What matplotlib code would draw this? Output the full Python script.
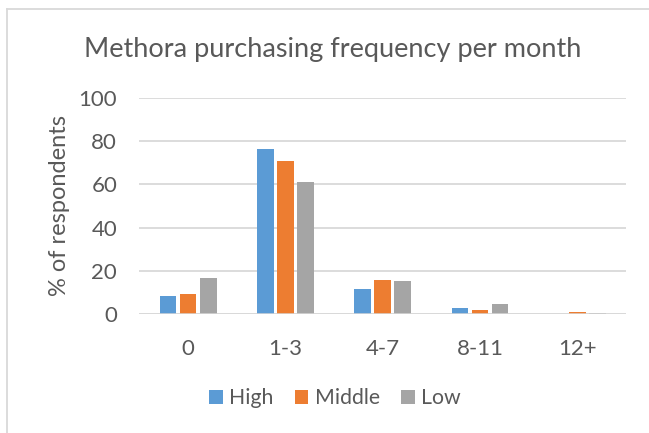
import numpy as np
import matplotlib.pyplot as plt
from matplotlib.patches import Patch

# survey data: % of respondents by purchase frequency, per income group
categories = ['0', '1-3', '4-7', '8-11', '12+']
groups = ['High', 'Middle', 'Low']
high = [8.6, 76.2, 11.5, 2.9, 0.0]
middle = [9.3, 70.6, 15.9, 1.8, 1.0]
low = [16.6, 61.1, 15.5, 4.9, 0.8]
colors = ['#5B9BD5', '#ED7D31', '#A5A5A5']

txt = '#595959'
grid = '#D9D9D9'
plt.rcParams['font.family'] = ['Lato', 'DejaVu Sans']

fig = plt.figure(figsize=(6.49, 4.33), dpi=100, facecolor='white')
ax = fig.add_axes([0.2149, 0.2741, 0.7496, 0.5003])

x = np.arange(len(categories))
step = 0.2066
for k, vals in enumerate([high, middle, low]):
    ax.bar(x + (k - 1) * step, vals, width=0.172, color=colors[k], zorder=3)

ax.set_xlim(-0.5, len(categories) - 0.5)
ax.set_ylim(0, 100)
ax.set_yticks(np.arange(0, 101, 20))
ax.set_xticks(x)
ax.set_xticklabels(categories)
ax.yaxis.grid(True, color=grid, linewidth=1.3, zorder=0)
ax.axhline(0, color=grid, linewidth=1.8, zorder=4)
for s in ax.spines.values():
    s.set_visible(False)
ax.tick_params(axis='both', length=0, labelsize=16, colors=txt)
ax.tick_params(axis='x', pad=17.5)
ax.tick_params(axis='y', pad=16)

fig.text(0.512, (433 - 56.7) / 433, 'Methora purchasing frequency per month',
         ha='center', va='baseline', fontsize=19.5, color=txt)
fig.text(60 / 649, (433 - 205) / 433, '% of respondents', rotation=90,
         ha='center', va='center', fontsize=17, color=txt)

handles = [Patch(facecolor=c, edgecolor='none') for c in colors]
fig.legend(handles, groups, loc='center', bbox_to_anchor=(335 / 649, (433 - 398) / 433),
           ncol=3, frameon=False, fontsize=15.3, labelcolor=txt,
           handlelength=0.64, handleheight=0.64, handletextpad=0.3, columnspacing=1.0)

# chart border (left and top edges visible)
fig.add_artist(plt.Line2D([6.7 / 649, 6.7 / 649], [0, (433 - 9) / 433], color=grid, linewidth=1.3))
fig.add_artist(plt.Line2D([6.7 / 649, 1], [(433 - 9) / 433, (433 - 9) / 433], color=grid, linewidth=1.3))

fig.savefig('out.png', dpi=100)
